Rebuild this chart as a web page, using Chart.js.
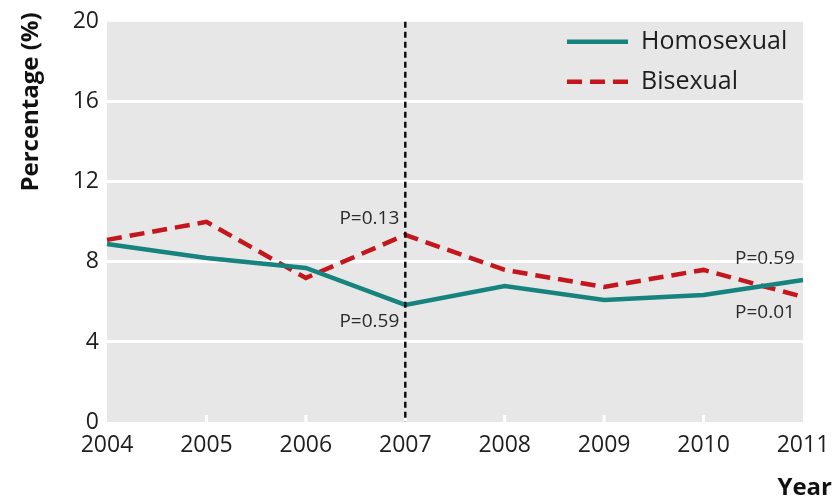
<!DOCTYPE html>
<html>
<head>
<meta charset="utf-8">
<script src="https://cdn.jsdelivr.net/npm/chart.js@4.4.0/dist/chart.umd.min.js"></script>
<style>
  html, body { margin: 0; padding: 0; background: #fff; }
</style>
</head>
<body>
<canvas id="trend" width="834" height="504"></canvas>
<script>
const years = ['2004', '2005', '2006', '2007', '2008', '2009', '2010', '2011'];
const homosexual = [8.9, 8.2, 7.7, 5.85, 6.8, 6.1, 6.35, 7.1];
const bisexual = [9.1, 10.0, 7.2, 9.35, 7.6, 6.75, 7.6, 6.25];
const yTicks = [0, 4, 8, 12, 16, 20];
const seriesNames = ['Homosexual', 'Bisexual'];
// p values: before 2007 (bisexual, homosexual), after 2007 (bisexual, homosexual)
const pBefore = ['P=0.13', 'P=0.59'];
const pAfter = ['P=0.59', 'P=0.01'];
const splitYear = '2007';

const TEAL = '#17837f';
const RED = '#c4161c';
const FONT = '"Open Sans", "Noto Sans", sans-serif';

const plotDecor = {
  id: 'plotDecor',
  beforeDraw(chart) {
    const { ctx, chartArea: a } = chart;
    ctx.save();
    ctx.fillStyle = '#e7e7e7';
    ctx.fillRect(a.left, a.top, a.right - a.left, a.bottom - a.top);
    ctx.restore();
  },
  beforeDatasetsDraw(chart) {
    const { ctx, chartArea: a, scales } = chart;
    ctx.save();
    // little white year ticks along the bottom
    ctx.strokeStyle = '#ffffff';
    ctx.lineWidth = 3;
    years.forEach((y, i) => {
      if (i === 0 || i === years.length - 1) return;
      const px = scales.x.getPixelForValue(i);
      ctx.beginPath();
      ctx.moveTo(px, a.bottom);
      ctx.lineTo(px, a.bottom - 7);
      ctx.stroke();
    });
    ctx.restore();
  },
  afterDatasetsDraw(chart) {
    const { ctx, chartArea: a, scales } = chart;
    const xs = scales.x, ys = scales.y;
    const idx = years.indexOf(splitYear);
    const px = xs.getPixelForValue(idx);

    ctx.save();
    // dashed marker for the split year
    ctx.strokeStyle = '#111';
    ctx.lineWidth = 2.5;
    ctx.setLineDash([6, 4]);
    ctx.beginPath();
    ctx.moveTo(px, a.top);
    ctx.lineTo(px, a.bottom);
    ctx.stroke();
    ctx.setLineDash([]);

    // p value notes
    ctx.font = '19px ' + FONT;
    ctx.fillStyle = '#2a2a2a';
    ctx.textBaseline = 'middle';
    ctx.textAlign = 'right';
    ctx.fillText(pBefore[0], px - 6, ys.getPixelForValue(bisexual[idx]) - 16);
    ctx.fillText(pBefore[1], px - 6, ys.getPixelForValue(homosexual[idx]) + 17);
    const last = years.length - 1;
    const rx = xs.getPixelForValue(last);
    ctx.textAlign = 'left';
    ctx.fillText(pAfter[0], rx - 68, ys.getPixelForValue(Math.max(homosexual[last], bisexual[last])) - 21);
    ctx.fillText(pAfter[1], rx - 68, ys.getPixelForValue(Math.min(homosexual[last], bisexual[last])) + 16);

    // legend
    const lx = a.right - 236;
    const rows = [
      { name: seriesNames[0], color: TEAL, dash: [] },
      { name: seriesNames[1], color: RED, dash: [15, 8] }
    ];
    ctx.font = '25px ' + FONT;
    ctx.fillStyle = '#1e1e1e';
    rows.forEach((r, i) => {
      const ly = a.top + 20 + i * 40;
      ctx.strokeStyle = r.color;
      ctx.lineWidth = 4.5;
      ctx.setLineDash(r.dash);
      ctx.beginPath();
      ctx.moveTo(lx, ly);
      ctx.lineTo(lx + 61, ly);
      ctx.stroke();
      ctx.fillText(r.name, lx + 74, ly);
    });
    ctx.restore();
  },
  afterDraw(chart) {
    const { ctx, width, height } = chart;
    ctx.save();
    ctx.fillStyle = '#111';
    ctx.font = 'bold 24px ' + FONT;
    ctx.textBaseline = 'middle';
    ctx.textAlign = 'center';
    ctx.translate(31, 102);
    ctx.rotate(-Math.PI / 2);
    ctx.fillText('Percentage (%)', 0, 0);
    ctx.restore();

    ctx.save();
    ctx.fillStyle = '#111';
    ctx.font = 'bold 24px ' + FONT;
    ctx.textAlign = 'right';
    ctx.textBaseline = 'middle';
    ctx.fillText('Year', width - 2, height - 16);
    ctx.restore();
  }
};

new Chart(document.getElementById('trend').getContext('2d'), {
  type: 'line',
  data: {
    labels: years,
    datasets: [
      {
        label: seriesNames[0],
        data: homosexual,
        borderColor: TEAL,
        borderWidth: 4.5,
        pointRadius: 0,
        tension: 0
      },
      {
        label: seriesNames[1],
        data: bisexual,
        borderColor: RED,
        borderWidth: 4.5,
        borderDash: [15, 8],
        pointRadius: 0,
        tension: 0
      }
    ]
  },
  options: {
    responsive: false,
    animation: false,
    layout: { padding: { top: 18, right: 31, left: 0, bottom: 0 } },
    plugins: { legend: { display: false }, tooltip: { enabled: false } },
    scales: {
      x: {
        offset: false,
        grid: { display: false, drawTicks: false },
        border: { display: false },
        ticks: { font: { family: FONT, size: 23 }, color: '#1e1e1e', padding: 10, maxRotation: 0 },
        afterFit(scale) {
          scale.height = 82;
          scale.paddingRight = 0;
        }
      },
      y: {
        min: 0,
        max: 20,
        afterBuildTicks(scale) { scale.ticks = yTicks.map(v => ({ value: v })); },
        grid: {
          drawTicks: false,
          lineWidth: 3,
          color: ctx => (ctx.tick && (ctx.tick.value === 0 || ctx.tick.value === 20)) ? 'rgba(0,0,0,0)' : '#ffffff'
        },
        border: { display: false },
        ticks: { font: { family: FONT, size: 23 }, color: '#1e1e1e', padding: 8 },
        afterFit(scale) { scale.width = 107; }
      }
    }
  },
  plugins: [plotDecor]
});
</script>
</body>
</html>
